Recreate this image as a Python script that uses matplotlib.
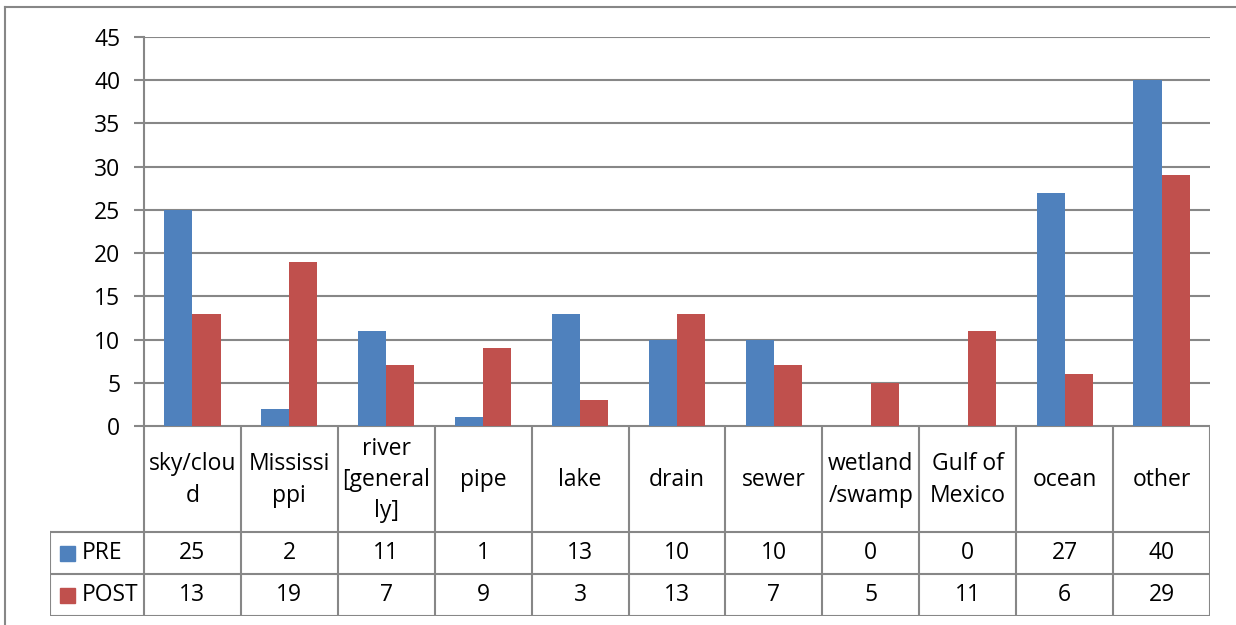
import matplotlib.pyplot as plt
from matplotlib.lines import Line2D

plt.rcParams['font.family'] = ['Open Sans', 'DejaVu Sans']

categories = ['sky/clou\nd', 'Mississi\nppi', 'river\n[general\nly]', 'pipe', 'lake',
              'drain', 'sewer', 'wetland\n/swamp', 'Gulf of\nMexico', 'ocean', 'other']
series = ['PRE', 'POST']
pre = [25, 2, 11, 1, 13, 10, 10, 0, 0, 27, 40]
post = [13, 19, 7, 9, 3, 13, 7, 5, 11, 6, 29]
colors = ['#4F81BD', '#C0504D']
yticks = [0, 5, 10, 15, 20, 25, 30, 35, 40, 45]

W, H = 1236, 625
grid_c = '#878787'
fs = 16.5
fig = plt.figure(figsize=(W / 100, H / 100), dpi=100)

# pixel helpers
x0, x1 = 144, 1210
ytop, yzero = 37, 426
leg_x = 50
row_cat, row_pre, row_post = 532, 574, 616

ax = fig.add_axes([x0 / W, 1 - yzero / H, (x1 - x0) / W, (yzero - ytop) / H])
n = len(categories)
bw = 0.29
xs = list(range(n))
ax.bar([x - bw / 2 for x in xs], pre, bw, color=colors[0], zorder=3)
ax.bar([x + bw / 2 for x in xs], post, bw, color=colors[1], zorder=3)
ax.set_xlim(-0.5, n - 0.5)
ax.set_ylim(0, 45)
ax.set_yticks(yticks)
ax.set_xticks([])
ax.tick_params(axis='y', length=7, width=1.5, color=grid_c, labelsize=fs, pad=10)
ax.grid(axis='y', color=grid_c, linewidth=1.5, zorder=0)
for s in ['top', 'right', 'bottom']:
    ax.spines[s].set_visible(False)
ax.spines['left'].set_color(grid_c)
ax.spines['left'].set_linewidth(1.5)

# data table under the plot
tab = fig.add_axes([leg_x / W, 1 - row_post / H, (x1 - leg_x) / W, (row_post - yzero) / H])
unit = (x1 - x0) / n
left = -0.5 - (x0 - leg_x) / unit
tab.set_xlim(left, n - 0.5)
tab.set_ylim(row_post, yzero)
tab.axis('off')

lk = dict(color=grid_c, linewidth=1.5, solid_capstyle='projecting')
tab.plot([-0.5, n - 0.5], [yzero, yzero], **lk)
tab.plot([left, n - 0.5], [row_cat, row_cat], **lk)
tab.plot([left, n - 0.5], [row_pre, row_pre], **lk)
tab.plot([left, n - 0.5], [row_post, row_post], **lk)
tab.plot([left, left], [row_cat, row_post], **lk)
for i in range(n + 1):
    tab.plot([i - 0.5, i - 0.5], [yzero, row_post], **lk)

for i, c in enumerate(categories):
    tab.text(i, (yzero + row_cat) / 2 + 1, c, ha='center', va='center', fontsize=fs,
             linespacing=1.4)
    tab.text(i, (row_cat + row_pre) / 2, str(pre[i]), ha='center', va='center', fontsize=fs)
    tab.text(i, (row_pre + row_post) / 2, str(post[i]), ha='center', va='center', fontsize=fs)

for name, col, (ya, yb) in zip(series, colors, [(row_cat, row_pre), (row_pre, row_post)]):
    ym = (ya + yb) / 2
    tab.add_patch(plt.Rectangle((left + 0.1, ym - 7.5), 0.155, 15,
                                color=col, transform=tab.transData))
    tab.text(left + 0.33, ym, name, ha='left', va='center', fontsize=fs)

# chart border
fig.add_artist(Line2D([5 / W, 5 / W], [0, 1 - 7 / H], color=grid_c, linewidth=1.5))
fig.add_artist(Line2D([5 / W, 1], [1 - 7 / H, 1 - 7 / H], color=grid_c, linewidth=1.5))

fig.savefig('out.png', dpi=100)
